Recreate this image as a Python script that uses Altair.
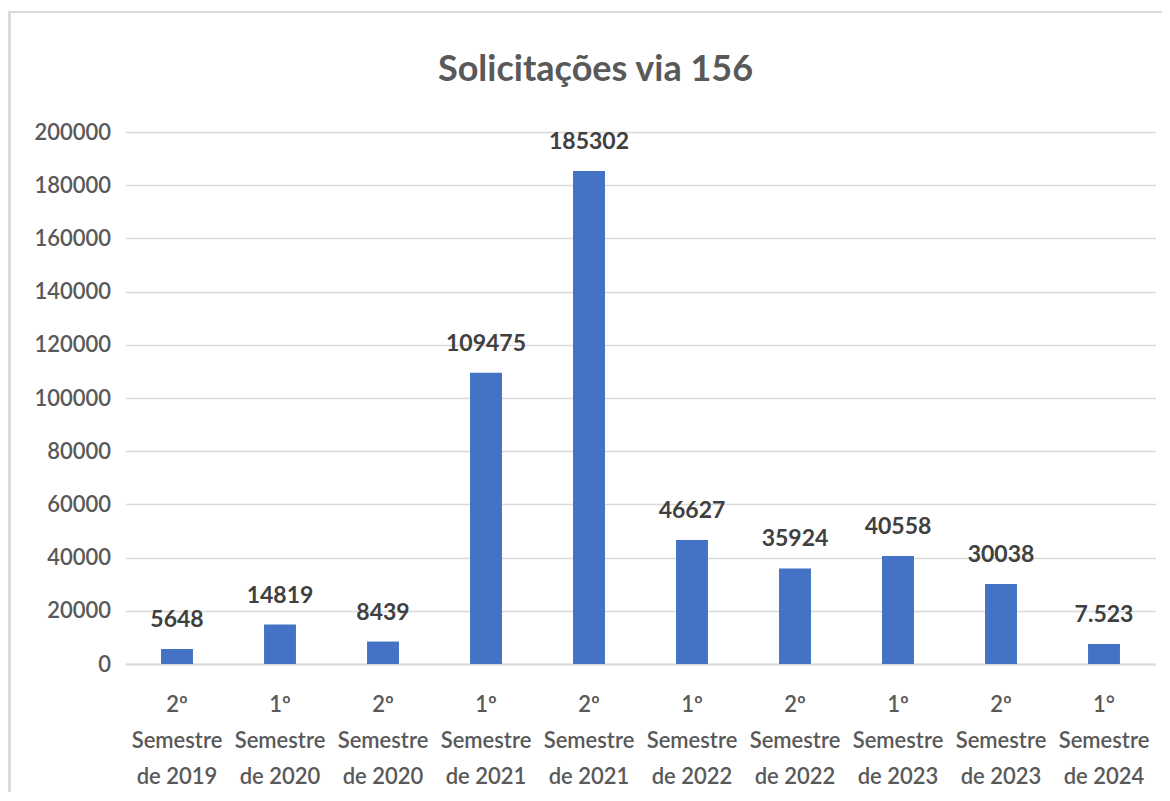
import altair as alt
import pandas as pd

categories = [
    "2º\nSemestre\nde 2019", "1º\nSemestre\nde 2020", "2º\nSemestre\nde 2020",
    "1º\nSemestre\nde 2021", "2º\nSemestre\nde 2021", "1º\nSemestre\nde 2022",
    "2º\nSemestre\nde 2022", "1º\nSemestre\nde 2023", "2º\nSemestre\nde 2023",
    "1°\nSemestre\nde 2024",
]
values = [5648, 14819, 8439, 109475, 185302, 46627, 35924, 40558, 30038, 7523]
value_labels = ["5648", "14819", "8439", "109475", "185302", "46627", "35924", "40558", "30038", "7.523"]
title_text = ["Solicitações via 156"]

df = pd.DataFrame({"cat": categories, "val": values, "lab": value_labels})
df_title = pd.DataFrame({"t": title_text})

FONT = "Lato"
GRAY = "#595959"

x = alt.X("cat:N", sort=categories, title=None,
          scale=alt.Scale(paddingInner=0.69, paddingOuter=0.345),
          axis=alt.Axis(labelAngle=0, labelExpr="split(datum.label, '\\n')",
                        labelLineHeight=36, labelFontSize=22, labelColor=GRAY,
                        labelFont=FONT, labelFontWeight=600, labelPadding=40,
                        ticks=False, domainColor="#D9D9D9", domainWidth=2,
                        labelBaseline="middle"))
y = alt.Y("val:Q", title=None,
          scale=alt.Scale(domain=[0, 200000]),
          axis=alt.Axis(values=list(range(0, 200001, 20000)), format="d", labelFontSize=22,
                        labelColor=GRAY, labelFont=FONT, labelFontWeight=600,
                        labelPadding=15, ticks=False, domain=False,
                        gridColor="#D9D9D9", gridWidth=1.5))

bars = alt.Chart(df).mark_bar(color="#4472C4").encode(x=x, y=y)
text = alt.Chart(df).mark_text(dy=-29, fontSize=23, font=FONT, fontWeight="bold",
                               color="#404040").encode(
    x=alt.X("cat:N", sort=categories), y="val:Q", text="lab:N")

title = alt.Chart(df_title).mark_text(fontSize=36, font=FONT, fontWeight="bold",
                                      color=GRAY, baseline="middle").encode(
    x=alt.value(470), y=alt.value(-62), text="t:N")

frame_top = alt.Chart(df).mark_rule(color="#D9D9D9", strokeWidth=2).encode(
    x=alt.value(-120), x2=alt.value(1050), y=alt.value(-120))
frame_left = alt.Chart(df).mark_rule(color="#D9D9D9", strokeWidth=2).encode(
    x=alt.value(-116), y=alt.value(-120), y2=alt.value(660))

chart = alt.layer(bars, text, title, frame_top, frame_left).properties(
    width=1030, height=532,
    autosize=alt.AutoSizeParams(type="none"),
    padding={"left": 117.5, "top": 124, "right": 6, "bottom": 128},
).configure_view(stroke=None)

chart.save("out.html", embed_options={"renderer": "svg", "actions": False})
